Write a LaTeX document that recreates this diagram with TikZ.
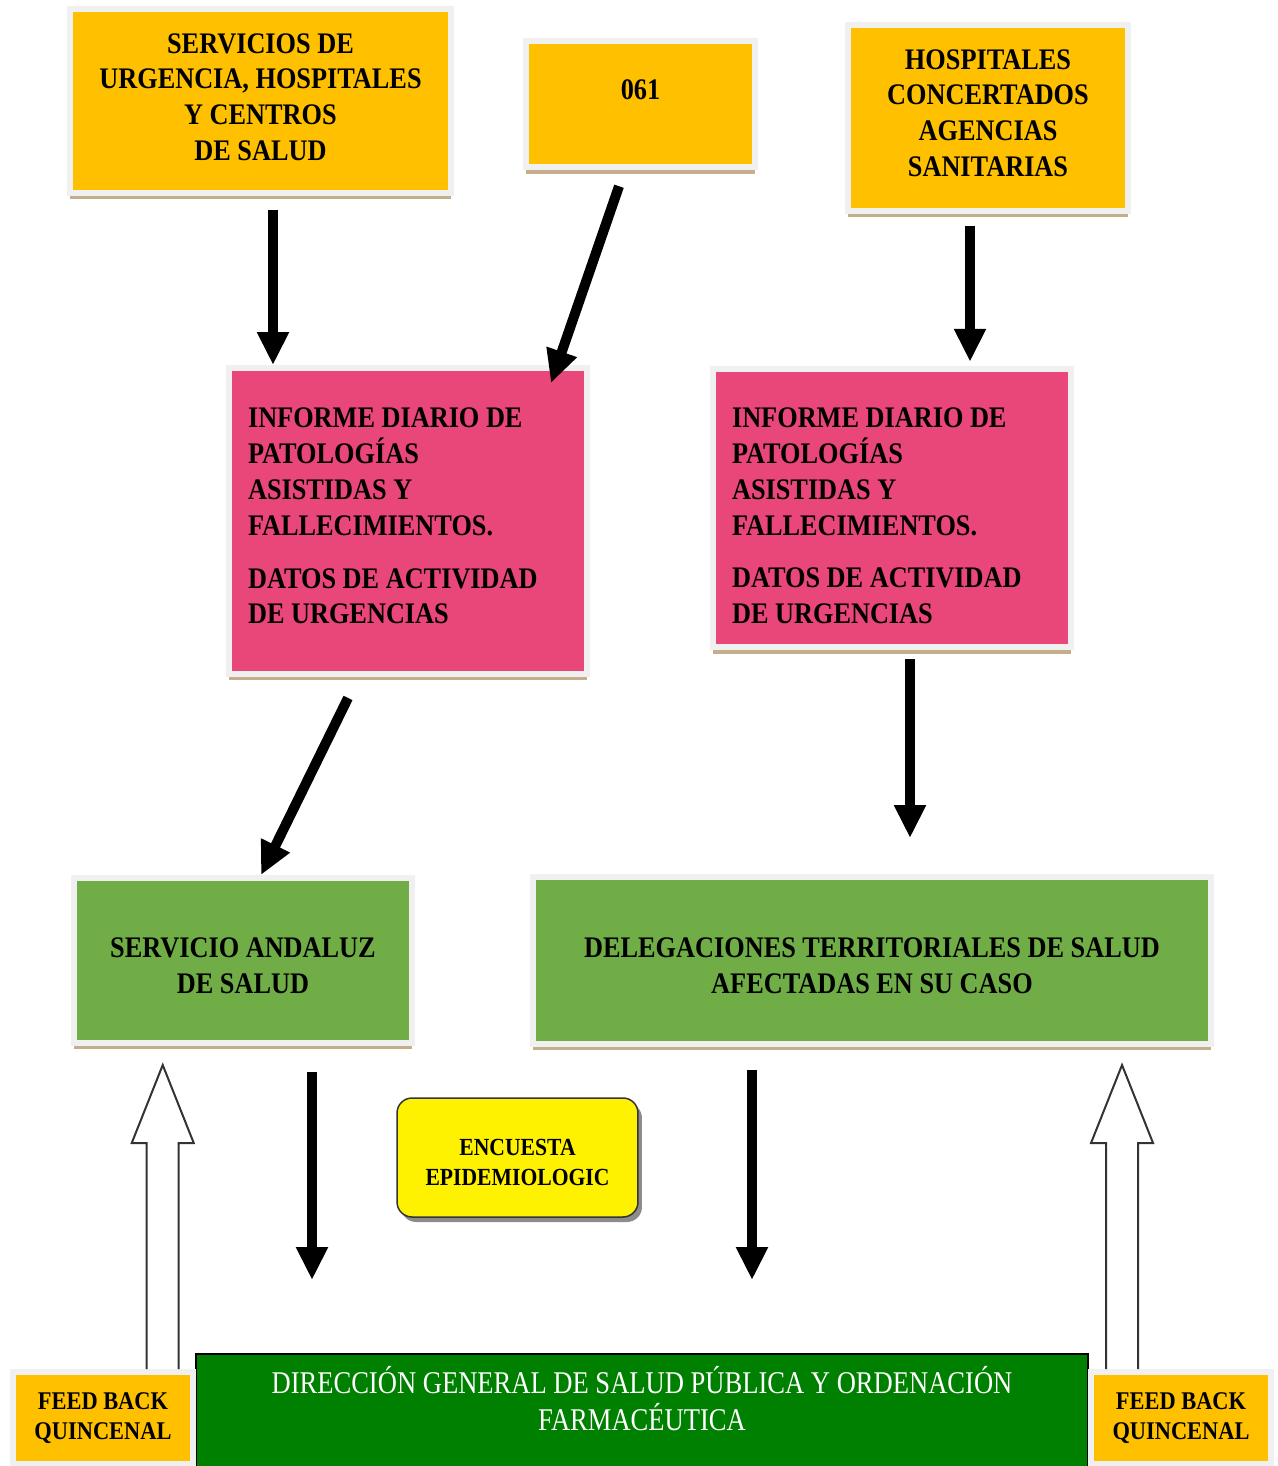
\documentclass[tikz,border=0pt]{standalone}
\usepackage{fontspec}
\setmainfont{Liberation Serif}[FakeStretch=0.88]
\newfontfamily\dirfont{Liberation Serif}[FakeStretch=0.84]
\usepackage{tikz}
\usetikzlibrary{positioning,calc,arrows.meta,shadows}

\definecolor{boxorange}{HTML}{FFC000}
\definecolor{boxpink}{HTML}{E9467A}
\definecolor{boxgreen}{HTML}{70AD47}
\definecolor{dirgreen}{HTML}{008000}
\definecolor{framegray}{HTML}{F0F0F0}
\definecolor{shadowtan}{HTML}{C4AE8C}
\definecolor{arrowgray}{HTML}{333333}

\begin{document}
\begin{tikzpicture}[x=0.02cm, y=-0.02cm,
			framed/.style={rectangle, draw=framegray, line width=0.12cm, align=center,
				drop shadow={shadow xshift=0cm, shadow yshift=-0.13cm, fill=shadowtan, opacity=1},
				font=\bfseries\fontsize{17pt}{20.4pt}\selectfont},
			orangebox/.style={framed, fill=boxorange},
			pinkbox/.style={framed, fill=boxpink, align=flush left, text width=6.4cm},
			greenbox/.style={framed, fill=boxgreen, text height=37.4pt},
			feedbox/.style={framed, fill=boxorange, font=\bfseries\fontsize{14.5pt}{17pt}\selectfont},
			encbox/.style={rectangle, rounded corners=0.3cm, draw=arrowgray, line width=0.03cm, fill=yellow, align=center,
				drop shadow={shadow xshift=0.08cm, shadow yshift=-0.1cm, fill=black!45, opacity=1},
				font=\bfseries\fontsize{14pt}{17pt}\selectfont, text height=32pt},
			dirbox/.style={rectangle, draw=black, line width=0.04cm, fill=dirgreen, text=white, align=center,
				font=\dirfont\fontsize{18pt}{21pt}\selectfont},
			flow/.style={line width=0.2cm, -{Triangle[length=0.66cm, width=0.6cm]}},
			hollow/.style={draw=arrowgray, line width=0.04cm, fill=white},
			]
			\useasboundingbox (0,0) rectangle (1277,1466);
			%Nodes
				% sources
				\node[orangebox, minimum width=7.62cm, minimum height=3.68cm, text depth=0.16cm]	(serv)	at (260.5,101)	{SERVICIOS DE\\URGENCIA, HOSPITALES\\Y CENTROS\\DE SALUD};
				\node[orangebox, minimum width=4.6cm, minimum height=2.53cm, text depth=0.56cm]	(n061)	at (640.5,104)	{061};
				\node[orangebox, minimum width=5.6cm, minimum height=3.72cm, text depth=0.2cm]	(hosp)	at (988,118)	{HOSPITALES\\CONCERTADOS\\AGENCIAS\\SANITARIAS};
				% reports
				\node[pinkbox, minimum width=7.16cm, minimum height=6.12cm, text depth=117.3pt]	(infoL)	at (408,521)	{INFORME DIARIO DE\\PATOLOGÍAS\\ASISTIDAS Y\\FALLECIMIENTOS.\\[9.6pt]DATOS DE ACTIVIDAD\\DE URGENCIAS};
				\node[pinkbox, minimum width=7.18cm, minimum height=5.57cm, text height=20.4pt]	(infoR)	at (892,508)	{INFORME DIARIO DE\\PATOLOGÍAS\\ASISTIDAS Y\\FALLECIMIENTOS.\\[9.6pt]DATOS DE ACTIVIDAD\\DE URGENCIAS};
				% receivers
				\node[greenbox, minimum width=6.78cm, minimum height=3.3cm]	(sas)	at (243,960.5)	{SERVICIO ANDALUZ\\DE SALUD};
				\node[greenbox, minimum width=13.56cm, minimum height=3.34cm]	(deleg)	at (872,960.5)	{DELEGACIONES TERRITORIALES DE SALUD\\AFECTADAS EN SU CASO};
				\node[encbox, minimum width=4.82cm, minimum height=2.38cm]	(enc)	at (517.5,1157.5)	{ENCUESTA\\EPIDEMIOLOGIC};
				% bottom row
				\node[dirbox, minimum width=17.84cm, minimum height=2.64cm, text depth=0.86cm]	(dir)	at (642,1420)	{DIRECCIÓN GENERAL DE SALUD PÚBLICA Y ORDENACIÓN\\FARMACÉUTICA};
				\node[feedbox, minimum width=3.59cm, minimum height=1.84cm]	(fbL)	at (103,1418)	{FEED BACK\\QUINCENAL};
				\node[feedbox, minimum width=3.6cm, minimum height=1.84cm]	(fbR)	at (1181,1418)	{FEED BACK\\QUINCENAL};

			%Lines
				% black arrows
				\draw[flow] ($(serv.south)+(12.5,14)$) coordinate (a1) -- (a1 |- infoL.north);
				\draw[flow] ($(n061.south)+(-21.5,16)$) -- ($(infoL.north east)+(-39,18)$);
				\draw[flow] ($(hosp.south)+(-18,12)$) coordinate (a3) -- ($(a3 |- infoR.north)+(0,-4)$);
				\draw[flow] ($(infoL.south)+(-60,21)$) -- ($(sas.north)+(18,0)$);
				\draw[flow] ($(infoR.south)+(18,9)$) coordinate (a5) -- ($(a5 |- deleg.north)+(0,-36)$);
				\draw[flow] ($(sas.south)+(69,26)$) coordinate (a6) -- ($(a6 |- dir.north)+(0,-73)$);
				\draw[flow] ($(deleg.south)+(-120,23)$) coordinate (a7) -- ($(a7 |- dir.north)+(0,-73)$);
				% feed back arrows
				\draw[hollow] ($(fbL.north east)+(-49,0)$) -- ++(0,-226) -- ++(-15,0) -- ++(31,-78) -- ++(31,78) -- ++(-15,0) -- ++(0,226);
				\draw[hollow] ($(fbR.north west)+(18,0)$) -- ++(0,-226) -- ++(-15,0) -- ++(31,-78) -- ++(31,78) -- ++(-15,0) -- ++(0,226);
		\end{tikzpicture}
\end{document}
